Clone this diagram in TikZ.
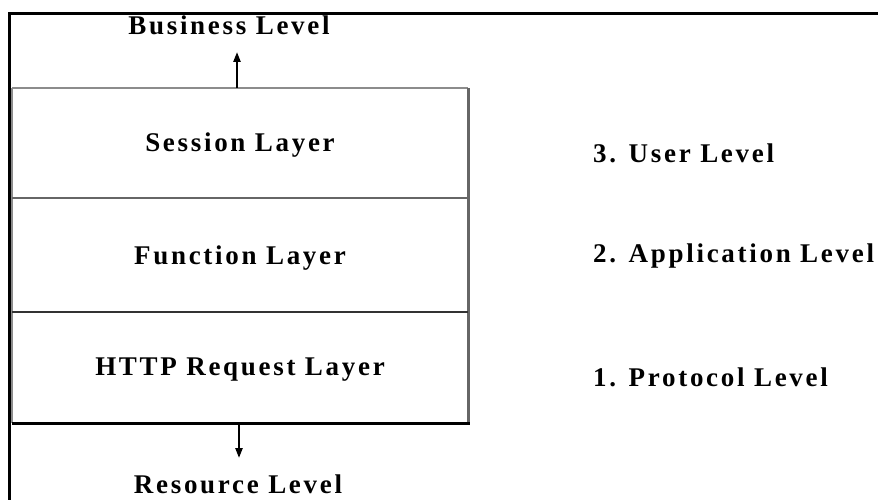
\documentclass[tikz,border=0pt]{standalone}
\usepackage{fontspec}
\setmainfont{Liberation Serif}[LetterSpace=10]
\usetikzlibrary{arrows.meta}
\begin{document}
\begin{tikzpicture}[x=1pt,y=-1pt,
  lbl/.style={font=\bfseries\fontsize{27}{30}\selectfont, inner sep=0pt, anchor=center},
  lvl/.style={font=\bfseries\fontsize{27}{30}\selectfont, inner sep=0pt, anchor=west},
  layer/.style={minimum width=456pt, inner sep=0pt, anchor=north west},
  flow/.style={line width=2.2pt, -{Triangle[length=10pt,width=7pt]}}]
\useasboundingbox (0,0) rectangle (878,500);
% open outer frame
\draw[line width=3pt] (878,14) -- (9,14) -- (9,500);
% layer stack
\node[layer, minimum height=110pt] (session) at (12,88) {};
\node[layer, minimum height=114pt] (function) at (12,198) {};
\node[layer, minimum height=111pt] (http) at (12,312) {};
\node[lbl] at (240,145) {Session Layer};
\node[lbl] at (240,258) {Function Layer};
\node[lbl] at (240,370) {HTTP Request Layer};
% borders
\draw[line width=2pt, gray!90] (session.north west) -- (session.north east);
\draw[line width=2pt, gray!90] (session.north west) -- (http.south west);
\draw[line width=3pt, gray!80!black] (session.north east) -- (http.south east);
\draw[line width=2pt, gray!80!black] (session.south west) -- (session.south east);
\draw[line width=2pt, black!80] (function.south west) -- (function.south east);
\draw[line width=2.5pt, black] (http.south west) -- ([xshift=2pt]http.south east);
% outer levels
\node[lbl] (business) at (229,25) {Business Level};
\node[lbl] (resource) at (238,484) {Resource Level};
\coordinate (up) at (237,52);
\coordinate (down) at (239,458);
\draw[flow] (session.north -| up) -- (up);
\draw[flow] (http.south -| down) -- (down);
% level labels
\node[lvl] (user) at (593,153) {3. User Level};
\node[lvl] (app) at (593,256) {2. Application Level};
\node[lvl] (proto) at (593,377) {1. Protocol Level};
\end{tikzpicture}
\end{document}
